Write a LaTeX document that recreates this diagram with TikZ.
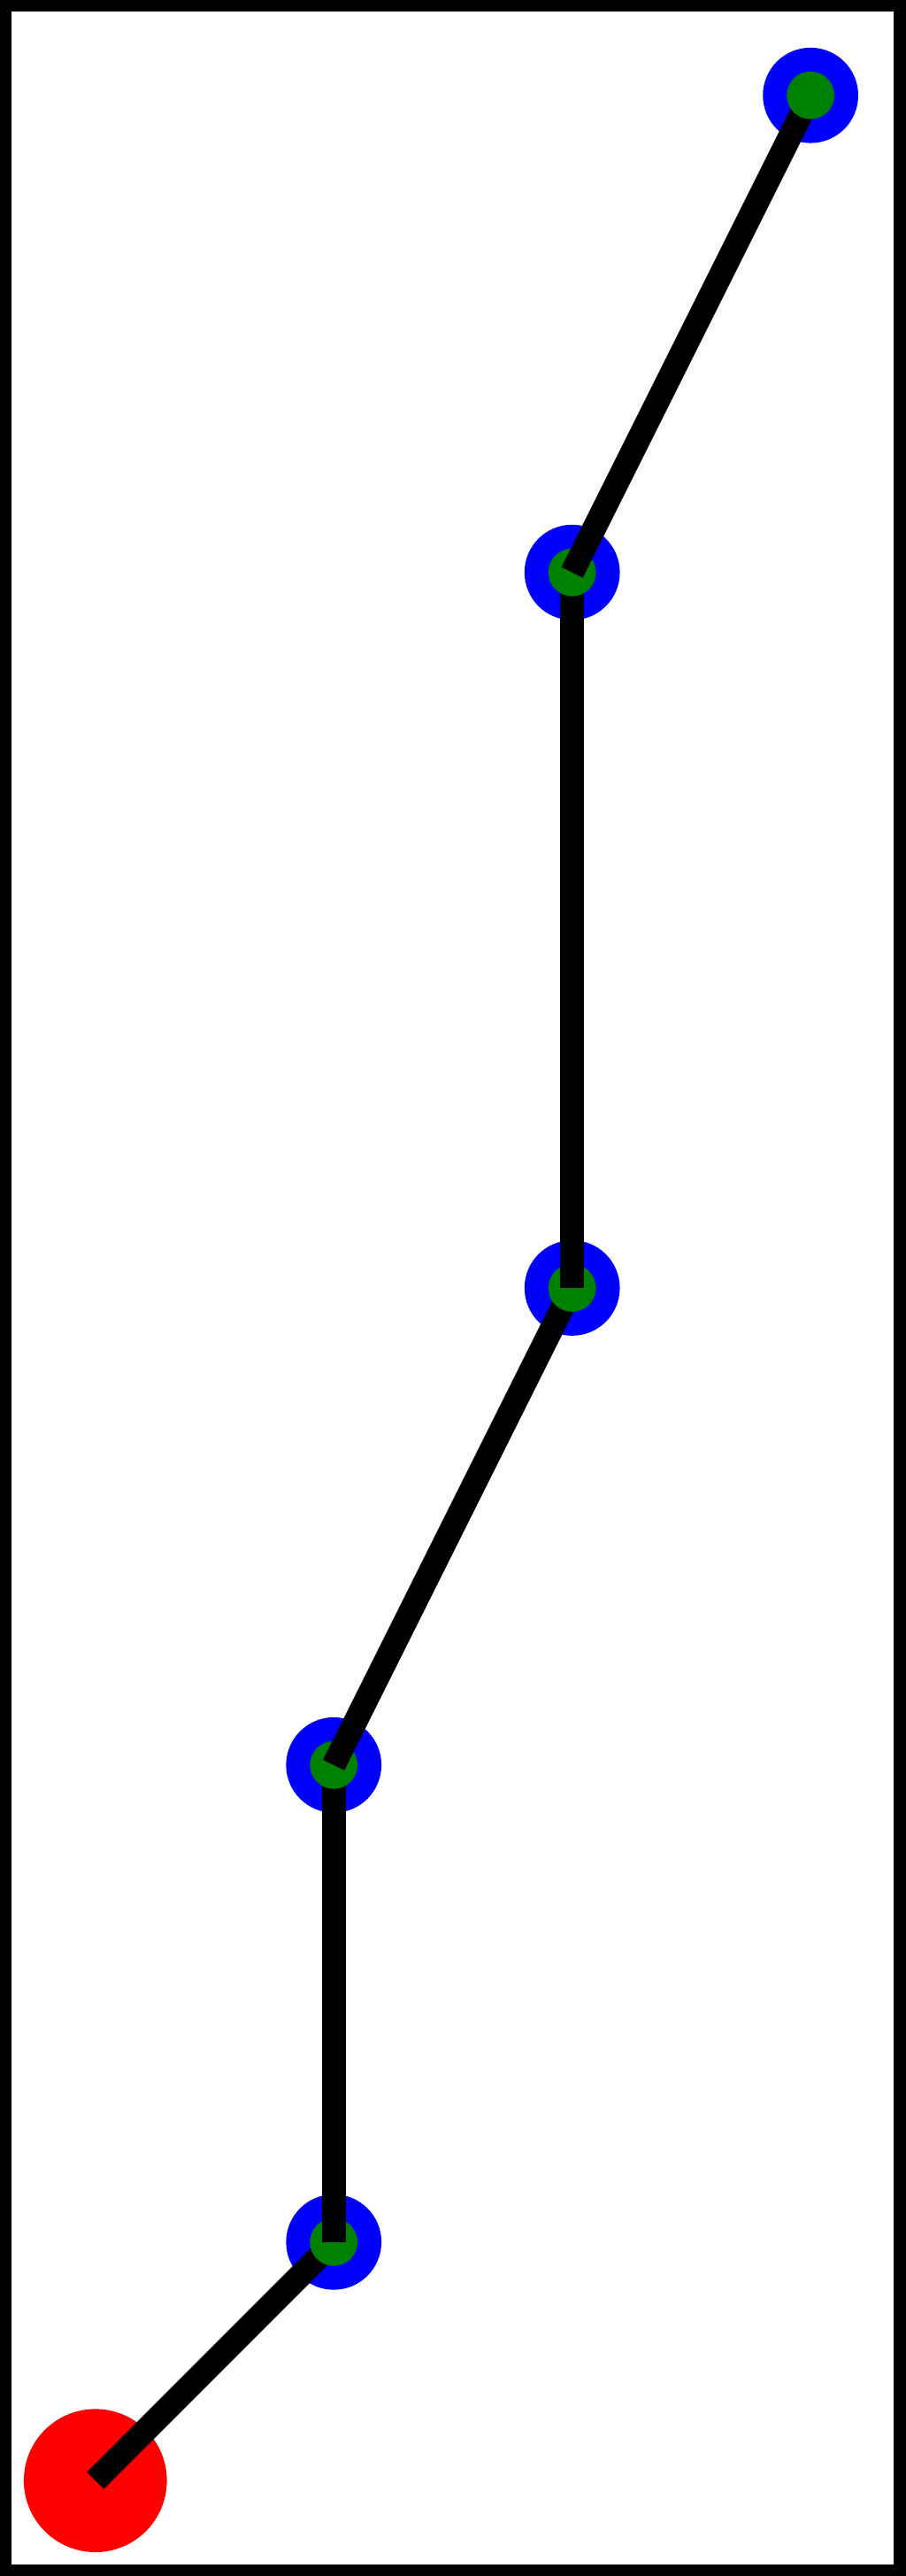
\documentclass[tikz,border=0pt]{standalone}
\begin{document}
\begin{tikzpicture}[
    ring/.style={circle, fill=blue, minimum size=0.4cm, inner sep=0pt},
    dot/.style={circle, fill=green!50!black, minimum size=0.2cm, inner sep=0pt},
    goal/.style={circle, fill=red, minimum size=0.6cm, inner sep=0pt},
    link/.style={line width=0.1cm}
]
    \useasboundingbox (0,0) rectangle (3.8,10.8);

    % Frame
    \draw [line width=0.05cm] (0.025,0.025) rectangle (3.775,10.775);

    % Start point
    \node [goal] (start) at (0.4,0.4) {};

    % Waypoints
    \node [ring] (p1) at (1.4,1.4) {};
    \node [ring] (p2) at (1.4,3.4) {};
    \node [ring] (p3) at (2.4,5.4) {};
    \node [ring] (p4) at (2.4,8.4) {};
    \node [ring] (p5) at (3.4,10.4) {};

    % Path, segment by segment
    \draw [link] (start.center) -- (p1.center);
    \node [dot] at (p1) {};
    \draw [link] (p1.center) -- (p2.center);
    \node [dot] at (p2) {};
    \draw [link] (p2.center) -- (p3.center);
    \node [dot] at (p3) {};
    \draw [link] (p3.center) -- (p4.center);
    \node [dot] at (p4) {};
    \draw [link] (p4.center) -- (p5.center);
    \node [dot] at (p5) {};
\end{tikzpicture}
\end{document}
